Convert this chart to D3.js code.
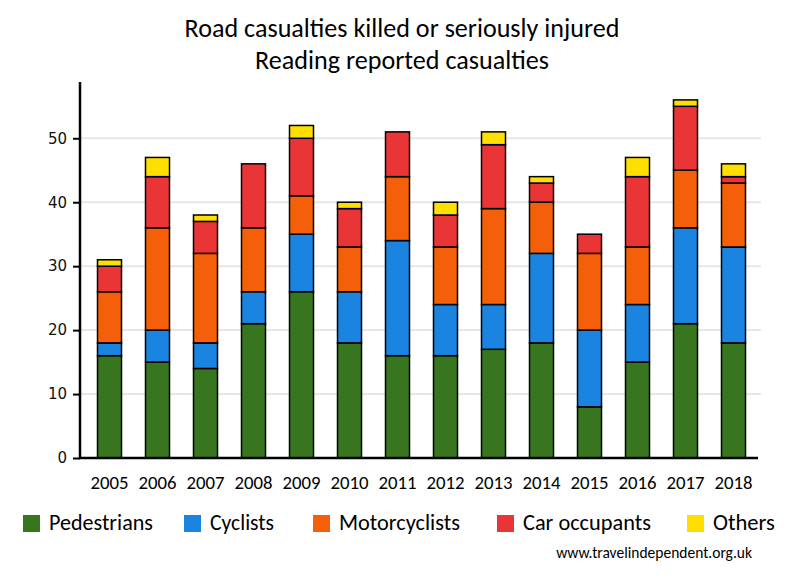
<!DOCTYPE html>
<html><head><meta charset="utf-8">
<script src="https://cdn.jsdelivr.net/npm/d3@7"></script>
<style>body{margin:0;background:#fff}svg{display:block}</style>
</head><body>
<svg id="c" width="800" height="580"></svg>
<script>
const years = ["2005","2006","2007","2008","2009","2010","2011","2012","2013","2014","2015","2016","2017","2018"];
const seriesNames = ["Pedestrians","Cyclists","Motorcyclists","Car occupants","Others"];
const pedestrians   = [16,15,14,21,26,18,16,16,17,18, 8,15,21,18];
const cyclists      = [ 2, 5, 4, 5, 9, 8,18, 8, 7,14,12, 9,15,15];
const motorcyclists = [ 8,16,14,10, 6, 7,10, 9,15, 8,12, 9, 9,10];
const carOccupants  = [ 4, 8, 5,10, 9, 6, 7, 5,10, 3, 3,11,10, 1];
const others        = [ 1, 3, 1, 0, 2, 1, 0, 2, 2, 1, 0, 3, 1, 2];
const yTicks = [0,10,20,30,40,50];
const colors = ["#37761f","#1b83e0","#f55f0a","#e93535","#ffdf00"];
const titleLines = ["Road casualties killed or seriously injured","Reading reported casualties"];
const footer = "www.travelindependent.org.uk";

const seriesVals = [pedestrians, cyclists, motorcyclists, carOccupants, others];
const rows = years.map((y,i)=>{const o={year:y}; seriesNames.forEach((s,k)=>o[s]=seriesVals[k][i]); return o;});
const stack = d3.stack().keys(seriesNames)(rows);

const svg = d3.select("#c");
const calibri = "Carlito, 'Open Sans', sans-serif";

function fitText(sel, target){
  const n = sel.node(); const fs = parseFloat(sel.attr("font-size"));
  const w = n.getComputedTextLength();
  if (w>0) sel.attr("font-size", fs*target/w);
}

const x = d3.scaleBand().domain(years).range([85.5,757.5]).paddingInner(0.5).paddingOuter(0.25);
const y = d3.scaleLinear().domain([0,58.8]).range([458,82]);

// grid
svg.append("g").selectAll("line").data(yTicks.filter(d=>d>0)).join("line")
  .attr("x1",80).attr("x2",761).attr("y1",d=>y(d)).attr("y2",d=>y(d))
  .attr("stroke","#e6e6e6").attr("stroke-width",2);

// bars
svg.append("g").selectAll("g").data(stack).join("g")
  .attr("fill",(d,i)=>colors[i])
  .selectAll("rect").data(d=>d.filter(p=>p[1]-p[0]>0)).join("rect")
  .attr("x",d=>x(d.data.year)).attr("width",x.bandwidth())
  .attr("y",d=>y(d[1])).attr("height",d=>y(d[0])-y(d[1]))
  .attr("stroke","#000").attr("stroke-width",1.5);

// y axis
const ya = svg.append("g").attr("transform","translate(80,0)")
  .call(d3.axisLeft(y).tickValues(yTicks).tickSize(7).tickPadding(6).tickFormat(d3.format("d")));
ya.select(".domain").remove();
ya.selectAll(".tick line").attr("stroke","#000").attr("stroke-width",2);
ya.selectAll("text").attr("font-family","'DejaVu Sans', Verdana, sans-serif").attr("font-size",15).attr("fill","#111");
svg.append("line").attr("x1",80).attr("x2",80).attr("y1",y.range()[1]).attr("y2",459).attr("stroke","#000").attr("stroke-width",2.5);

// x axis
const xa = svg.append("g").attr("transform","translate(0,458)")
  .call(d3.axisBottom(x).tickSize(0).tickPadding(18));
xa.select(".domain").remove();
xa.selectAll("text").attr("font-family",calibri).attr("font-size",16).attr("fill","#000");
xa.selectAll("text").each(function(){fitText(d3.select(this),38);});
svg.append("line").attr("x1",79).attr("x2",758).attr("y1",458).attr("y2",458).attr("stroke","#000").attr("stroke-width",2.5);

// title
const tb=[37,69], tw=[435,294];
titleLines.forEach((t,i)=>{
  const s = svg.append("text").attr("x",402).attr("y",tb[i]).attr("text-anchor","middle")
    .attr("font-family",calibri).attr("font-size",22).attr("fill","#000").text(t);
  fitText(s,tw[i]);
});

// legend
const legX = [23,184,313,497,687], legW=[104,64,121,128,62];
const lg = svg.append("g");
seriesNames.forEach((s,i)=>{
  lg.append("rect").attr("x",legX[i]).attr("y",515).attr("width",17).attr("height",17).attr("fill",colors[i]);
  const t = lg.append("text").attr("x",legX[i]+26).attr("y",530).attr("font-family",calibri)
    .attr("font-size",19).attr("fill","#000").text(s);
  fitText(t,legW[i]);
});

// footer
const f = svg.append("text").attr("x",752).attr("y",558).attr("text-anchor","end")
  .attr("font-family",calibri).attr("font-size",14).attr("fill","#000").text(footer);
fitText(f,196);
</script>
</body></html>
